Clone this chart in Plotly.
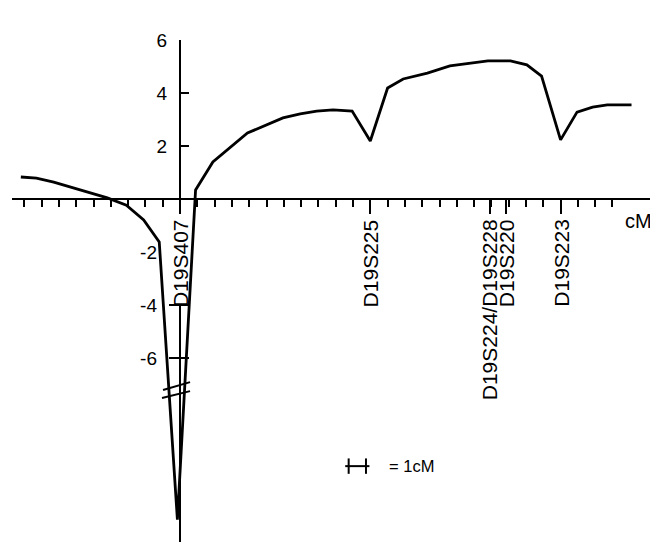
import plotly.graph_objects as go

# ---- data ----
cm = [-9.2, -8.3, -7.3, -6.2, -5.2, -4.2, -3.1, -2.1, -1.2, -0.15, 0.9, 1.9, 3.9,
      5.95, 6.95, 7.9, 8.85, 9.95, 11.0, 12.0, 12.9, 14.3, 15.6, 16.75, 17.8,
      19.1, 20.05, 20.9, 22.0, 22.95, 23.85, 24.7, 26.1]
lod = [0.83, 0.79, 0.64, 0.42, 0.23, 0.04, -0.23, -0.79, -1.62, -12.1, 0.34, 1.40,
       2.49, 3.06, 3.21, 3.32, 3.36, 3.32, 2.19, 4.19, 4.53, 4.75, 5.02, 5.13,
       5.21, 5.21, 5.06, 4.64, 2.23, 3.28, 3.47, 3.55, 3.55]

markers = ["D19S407", "D19S225", "D19S224/D19S228", "D19S220", "D19S223"]
marker_cm = [0, 11, 17.9, 18.85, 22]

cm_ticks = list(range(-9, 26))
pos_ticks = [2, 4, 6]
pos_tick_text = ["2", "4", "6"]
neg_ticks = [-6, -4, -2]
neg_tick_text = ["-6", "-4", "-2"]
cross_ticks = [-6, -4]            # ticks crossing the axis below the label

scale_cm = [9.75, 10.75]          # the 1 cM scale bar
scale_label = "= 1cM"

# ---- layout geometry (page body has an 8px margin) ----
OFF = 8
W, H = 658 - OFF, 542 - OFF
xr = [-9.711, 27.457]
xdom = [(12 - OFF) / W, (655 - OFF) / W]
yr = [-12.943, 6.0]
ydom = [0.0, 1 - (40 - OFF) / H]

def xpos(v):
    return xdom[0] + (v - xr[0]) / (xr[1] - xr[0]) * (xdom[1] - xdom[0])

def ypos(v):
    return ydom[0] + (v - yr[0]) / (yr[1] - yr[0]) * (ydom[1] - ydom[0])

FONT = "Liberation Sans, Arial, Helvetica, sans-serif"

fig = go.Figure()
fig.add_trace(go.Scatter(x=cm, y=lod, mode="lines",
                         line=dict(color="black", width=2.8),
                         hoverinfo="skip", showlegend=False))
# scale bar
fig.add_trace(go.Scatter(x=[scale_cm[0] - 0.2, scale_cm[1] + 0.2], y=[-10.08, -10.08],
                         mode="lines", line=dict(color="black", width=2),
                         hoverinfo="skip", showlegend=False))
fig.add_trace(go.Scatter(x=scale_cm, y=[-10.08, -10.08], mode="markers",
                         marker=dict(symbol="line-ns", size=11,
                                     line=dict(color="black", width=2)),
                         hoverinfo="skip", showlegend=False))
# invisible anchors so the twin axes get drawn
for xa, ya in [("x2", "y"), ("x", "y2"), ("x", "y3")]:
    fig.add_trace(go.Scatter(x=[0], y=[0], xaxis=xa, yaxis=ya, mode="markers",
                             marker=dict(opacity=0), hoverinfo="skip",
                             showlegend=False))

common_y = dict(range=yr, domain=ydom, anchor="free", position=xpos(0),
                automargin=False, showgrid=False, zeroline=False, showline=False,
                tickcolor="black", tickwidth=2, tickfont=dict(size=19))

fig.update_layout(
    template="none",
    width=W, height=H,
    margin=dict(l=0, r=0, t=0, b=0, pad=0),
    paper_bgcolor="white", plot_bgcolor="white",
    font=dict(family=FONT, color="black", size=20),
    xaxis=dict(range=xr, domain=xdom, anchor="free", position=ypos(0),
               automargin=False,
               showgrid=False, zeroline=False, showline=True, linecolor="black",
               linewidth=2, ticks="outside", ticklen=7, tickwidth=2,
               tickcolor="black", tickvals=cm_ticks, showticklabels=False),
    xaxis2=dict(range=xr, domain=xdom, anchor="free", position=ypos(0),
                automargin=False,
                overlaying="x", showgrid=False, zeroline=False, showline=False,
                ticks="outside", ticklen=14, tickwidth=2, tickcolor="black",
                tickvals=marker_cm, showticklabels=False),
    yaxis=dict(**common_y, ticks="inside", ticklen=8,
               tickvals=pos_ticks + cross_ticks,
               ticktext=pos_tick_text + [""] * len(cross_ticks),
               ticklabelstandoff=13),
    yaxis2=dict(**common_y, overlaying="y", ticks="",
                tickvals=neg_ticks, ticktext=neg_tick_text,
                ticklabelstandoff=23),
    yaxis3=dict(**common_y, overlaying="y", ticks="outside", ticklen=11,
                tickvals=cross_ticks, showticklabels=False),
)

ann = []
for name, c in zip(markers, marker_cm):
    ann.append(dict(x=c, y=-0.72, xref="x", yref="y", text=name, textangle=-90,
                    showarrow=False, xanchor="center", yanchor="top",
                    font=dict(size=21), borderpad=0))
ann.append(dict(x=0, y=6.72, xref="x", yref="y", text="Lod score (Z)",
                showarrow=False, xanchor="left", yanchor="middle", xshift=-1,
                font=dict(size=20)))
ann.append(dict(x=26.5, y=-0.83, xref="x", yref="y", text="cM", showarrow=False,
                xanchor="center", yanchor="middle", font=dict(size=20)))
ann.append(dict(x=11.97, y=-10.08, xref="x", yref="y", text=scale_label,
                showarrow=False, xanchor="left", yanchor="middle",
                font=dict(size=16.5)))
fig.update_layout(annotations=ann)

# vertical axis line, interrupted by the D19S407 label
fig.add_shape(type="line", x0=0, y0=yr[1], x1=0, y1=-0.55,
              line=dict(color="black", width=2))
fig.add_shape(type="line", x0=0, y0=-4.0, x1=0, y1=yr[0],
              line=dict(color="black", width=2))
# axis break marks
fig.add_shape(type="line", x0=-0.98, y0=-7.21, x1=0.58, y1=-6.91,
              line=dict(color="black", width=2))
fig.add_shape(type="line", x0=-1.04, y0=-7.51, x1=0.58, y1=-7.25,
              line=dict(color="black", width=2))

fig.write_html("out.html")
